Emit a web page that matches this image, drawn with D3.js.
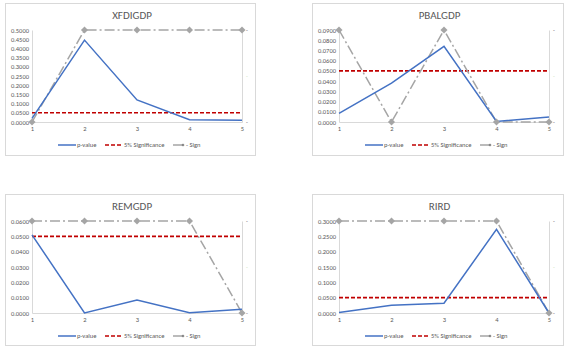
<!DOCTYPE html>
<html>
<head>
<meta charset="utf-8">
<script src="https://cdn.jsdelivr.net/npm/d3@7"></script>
<style>
  body { margin: 0; background: white; }
  text { font-family: Carlito, "Liberation Sans", Arial, sans-serif; font-weight: normal; }
</style>
</head>
<body>
<div id="container"></div>
<script>
let w = 582;
let h = 357;

// data
let lags = [1, 2, 3, 4, 5];
let titles = ["XFDIGDP", "PBALGDP", "REMGDP", "RIRD"];
let pvalueXFDIGDP = [0.020, 0.445, 0.120, 0.012, 0.010];
let pvaluePBALGDP = [0.0085, 0.038, 0.074, 0.0005, 0.005];
let pvalueREMGDP = [0.051, 0.0, 0.0085, 0.0002, 0.0025];
let pvalueRIRD = [0.002, 0.025, 0.032, 0.273, 0.0];
let signXFDIGDP = [0, 1, 1, 1, 1];
let signPBALGDP = [1, 0, 1, 0, 0];
let signREMGDP = [1, 1, 1, 1, 0];
let signRIRD = [1, 1, 1, 1, 0];
let significance = 0.05;
let yMaxes = [0.5, 0.09, 0.06, 0.3];
let yStepss = [0.05, 0.01, 0.01, 0.05];
let legendLabels = ["p-value", "5% Significance", "- Sign"];

let pvalues = [pvalueXFDIGDP, pvaluePBALGDP, pvalueREMGDP, pvalueRIRD];
let signs = [signXFDIGDP, signPBALGDP, signREMGDP, signRIRD];

// panel boxes
let boxes = [
  {x: 5, y: 3, w: 250, h: 152},
  {x: 312, y: 3, w: 251, h: 152},
  {x: 5, y: 194, w: 250, h: 151},
  {x: 312, y: 194, w: 251, h: 151}
];

let viz = d3.select("#container")
  .append("svg")
  .attr("width", w)
  .attr("height", h)
  .style("background-color", "white");

function drawPanel(i) {
  let box = boxes[i];
  let g = viz.append("g").attr("transform", "translate(" + box.x + "," + box.y + ")");

  g.append("rect")
    .attr("x", 0.5).attr("y", 0.5)
    .attr("width", box.w).attr("height", box.h)
    .attr("fill", "white")
    .attr("stroke", "#d9d9d9");

  let left = 27;
  let right = 237;
  let top = 27;
  let bottom = 119;

  let xScale = d3.scaleLinear().domain([1, 5]).range([left, right]);
  let yScale = d3.scaleLinear().domain([0, yMaxes[i]]).range([bottom, top]);
  let y2Scale = d3.scaleLinear().domain([0, 1]).range([bottom, top]);

  // title
  g.append("text")
    .attr("x", box.w / 2 + 2)
    .attr("y", 16)
    .attr("text-anchor", "middle")
    .attr("font-size", 11)
    .attr("fill", "#595959")
    .text(titles[i]);

  // left axis
  let ticks = d3.range(0, yMaxes[i] + yStepss[i] / 2, yStepss[i]);
  let yAxis = d3.axisLeft(yScale).tickValues(ticks).tickSize(0).tickPadding(3)
    .tickFormat(d3.format(".4f"));
  let yAxisGroup = g.append("g").attr("transform", "translate(" + left + ",0)").call(yAxis);
  yAxisGroup.select(".domain").attr("stroke", "#d9d9d9");
  yAxisGroup.selectAll("text").attr("font-size", 6.5).attr("fill", "#595959");

  // bottom axis
  let xAxis = d3.axisBottom(xScale).tickValues(lags).tickSize(0).tickPadding(4)
    .tickFormat(d3.format("d"));
  let xAxisGroup = g.append("g").attr("transform", "translate(0," + bottom + ")").call(xAxis);
  xAxisGroup.select(".domain").attr("stroke", "#d9d9d9");
  xAxisGroup.selectAll("text").attr("font-size", 6.5).attr("fill", "#595959");

  // right (secondary) axis
  let y2Axis = d3.axisRight(y2Scale).tickValues([0, 0.5, 1]).tickSize(0).tickPadding(4)
    .tickFormat(() => "-");
  let y2AxisGroup = g.append("g").attr("transform", "translate(" + right + ",0)").call(y2Axis);
  y2AxisGroup.select(".domain").attr("stroke", "#d9d9d9");
  y2AxisGroup.selectAll("text").attr("font-size", 6).attr("fill", "#595959");
  y2AxisGroup.selectAll(".tick").filter(d => d == 0.5).select("text").attr("fill", "#c6e0b4");

  // significance line
  let sigLine = d3.line().x(d => xScale(d)).y(() => yScale(significance));
  g.append("path")
    .attr("d", sigLine(lags))
    .attr("fill", "none")
    .attr("stroke", "#c00000")
    .attr("stroke-width", 1.6)
    .attr("stroke-dasharray", "4,2");

  // sign line
  let signData = lags.map((l, j) => ({x: l, y: signs[i][j]}));
  let signLine = d3.line().x(d => xScale(d.x)).y(d => y2Scale(d.y));
  g.append("path")
    .attr("d", signLine(signData))
    .attr("fill", "none")
    .attr("stroke", "#a5a5a5")
    .attr("stroke-width", 1.5)
    .attr("stroke-dasharray", "10,3,2,3");

  // p-value line
  let pData = lags.map((l, j) => ({x: l, y: pvalues[i][j]}));
  let pLine = d3.line().x(d => xScale(d.x)).y(d => yScale(d.y));
  g.append("path")
    .attr("d", pLine(pData))
    .attr("fill", "none")
    .attr("stroke", "#4472c4")
    .attr("stroke-width", 1.5);

  // sign markers (diamonds)
  g.selectAll(".signMarker").data(signData).enter()
    .append("path")
    .attr("class", "signMarker")
    .attr("d", d3.symbol().type(d3.symbolDiamond2).size(32))
    .attr("transform", d => "translate(" + xScale(d.x) + "," + y2Scale(d.y) + ")")
    .attr("fill", "#a5a5a5");

  // legend
  let ly = bottom + 23;
  let lg = g.append("g").attr("transform", "translate(0," + ly + ")");
  lg.append("line").attr("x1", 53).attr("x2", 71).attr("y1", 0).attr("y2", 0)
    .attr("stroke", "#4472c4").attr("stroke-width", 1.5);
  lg.append("text").attr("x", 72).attr("y", 2.2).attr("font-size", 6.5).attr("fill", "#595959")
    .text(legendLabels[0]);
  lg.append("line").attr("x1", 100).attr("x2", 118).attr("y1", 0).attr("y2", 0)
    .attr("stroke", "#c00000").attr("stroke-width", 1.6).attr("stroke-dasharray", "4,2");
  lg.append("text").attr("x", 119).attr("y", 2.2).attr("font-size", 6.5).attr("fill", "#595959")
    .text(legendLabels[1]);
  lg.append("line").attr("x1", 168).attr("x2", 178).attr("y1", 0).attr("y2", 0)
    .attr("stroke", "#a5a5a5").attr("stroke-width", 1.5);
  lg.append("path").attr("d", d3.symbol().type(d3.symbolDiamond2).size(6))
    .attr("transform", "translate(178,0)").attr("fill", "#7f7f7f");
  lg.append("text").attr("x", 181).attr("y", 2.2).attr("font-size", 6.5).attr("fill", "#595959")
    .text(legendLabels[2]);
}

for (let i = 0; i < 4; i++) {
  drawPanel(i);
}
</script>
</body>
</html>
